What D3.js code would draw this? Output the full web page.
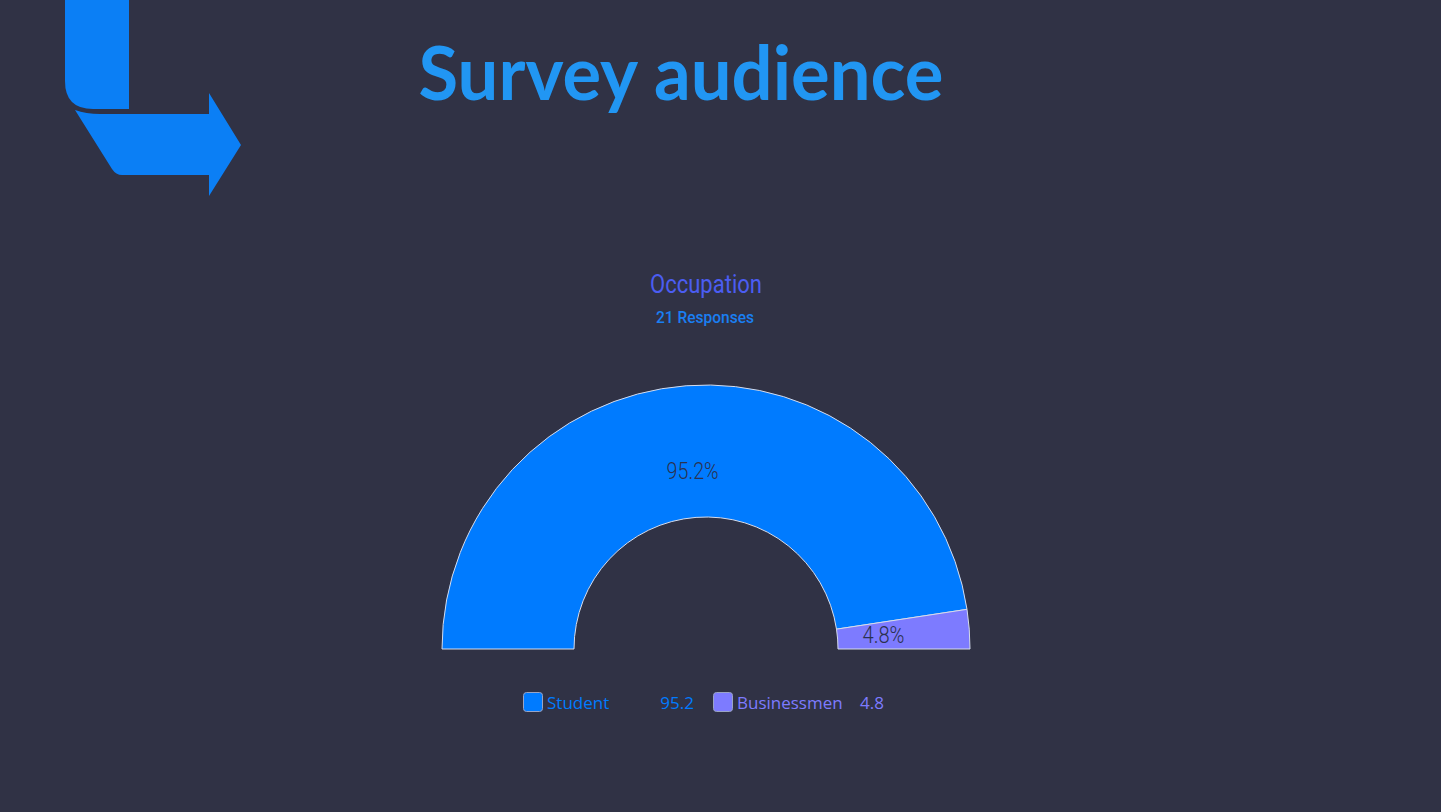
<!DOCTYPE html>
<html>
<head>
<meta charset="utf-8">
<script src="https://cdn.jsdelivr.net/npm/d3@7"></script>
<style>
html,body{margin:0;padding:0;background:#303245;}
svg{display:block;}
</style>
</head>
<body>
<svg id="chart" width="1441" height="812"></svg>
<script>
const categories = ["Student", "Businessmen"];
const values = [95.2, 4.8];
const colors = ["#007bff", "#7d7bff"];
const title = "Survey audience";
const chartTitle = "Occupation";
const chartSubtitle = "21 Responses";

const svg = d3.select("#chart");
svg.append("rect").attr("width",1441).attr("height",812).attr("fill","#303245");

// logo
const logo = svg.append("g").attr("fill","#0b7ff5");
logo.append("path").attr("d","M65,0 L129,0 L129,109 L93,109 Q65,109 65,81 Z");
logo.append("path").attr("d","M75,110 Q86,114 100,114 L209,114 L209,93 L241,145 L209,196 L209,175 L122,175 Q116,175 112,169 Z");

// main title
svg.append("text").attr("x",681).attr("y",100).attr("text-anchor","middle")
  .attr("font-family","Lato").attr("font-weight",700).attr("font-size",74)
  .attr("textLength",525).attr("lengthAdjust","spacingAndGlyphs")
  .attr("fill","#2196f3").text(title);

svg.append("text").attr("x",706).attr("y",293).attr("text-anchor","middle")
  .attr("font-family","Roboto, sans-serif").attr("font-size",26)
  .attr("textLength",112).attr("lengthAdjust","spacingAndGlyphs")
  .attr("fill","#4b5df2").text(chartTitle);
svg.append("text").attr("x",705).attr("y",323).attr("text-anchor","middle")
  .attr("font-family","Roboto, sans-serif").attr("font-weight",500).attr("font-size",17)
  .attr("textLength",98).attr("lengthAdjust","spacingAndGlyphs")
  .attr("fill","#1a7ff2").text(chartSubtitle);

const cx = 706, cy = 649, rOuter = 264, rInner = 132;
const pie = d3.pie().sort(null).value(d=>d).startAngle(-Math.PI/2).endAngle(Math.PI/2);
const arcs = pie(values);
const arc = d3.arc().innerRadius(rInner).outerRadius(rOuter);
const labelArc = d3.arc().innerRadius(178).outerRadius(178);
const g = svg.append("g").attr("transform",`translate(${cx},${cy})`);
g.selectAll("path.slice").data(arcs).join("path").attr("class","slice")
  .attr("d",arc).attr("fill",(d,i)=>colors[i]).attr("stroke","#d6dcec").attr("stroke-width",1);
g.selectAll("text.lbl").data(arcs).join("text").attr("class","lbl")
  .attr("transform",d=>{const c=labelArc.centroid(d);return `translate(${c[0]},${c[1]})`;})
  .attr("text-anchor","middle").attr("dominant-baseline","central")
  .attr("font-family","Roboto").attr("font-weight",300).attr("font-size",23)
  .attr("textLength",d=>d.data>=10?52:42).attr("lengthAdjust","spacingAndGlyphs")
  .attr("fill","#2b3250").text(d=>d.data.toFixed(1)+"%");

// legend
const legendX = [523, 713];
const valueX = [694, 884];
const lg = svg.append("g");
categories.forEach((c,i)=>{
  lg.append("rect").attr("x",legendX[i]+0.5).attr("y",692.5).attr("width",19).attr("height",19)
    .attr("rx",3).attr("fill",colors[i]).attr("stroke","#9aa4c4").attr("stroke-width",1);
  lg.append("text").attr("x",legendX[i]+24).attr("y",709).attr("font-family","'Open Sans', sans-serif")
    .attr("font-size",17).attr("fill",colors[i]).text(c);
  lg.append("text").attr("x",valueX[i]).attr("y",709).attr("text-anchor","end").attr("font-family","'Open Sans', sans-serif")
    .attr("font-size",17).attr("fill",colors[i]).text(values[i].toFixed(1));
});
</script>
</body>
</html>
